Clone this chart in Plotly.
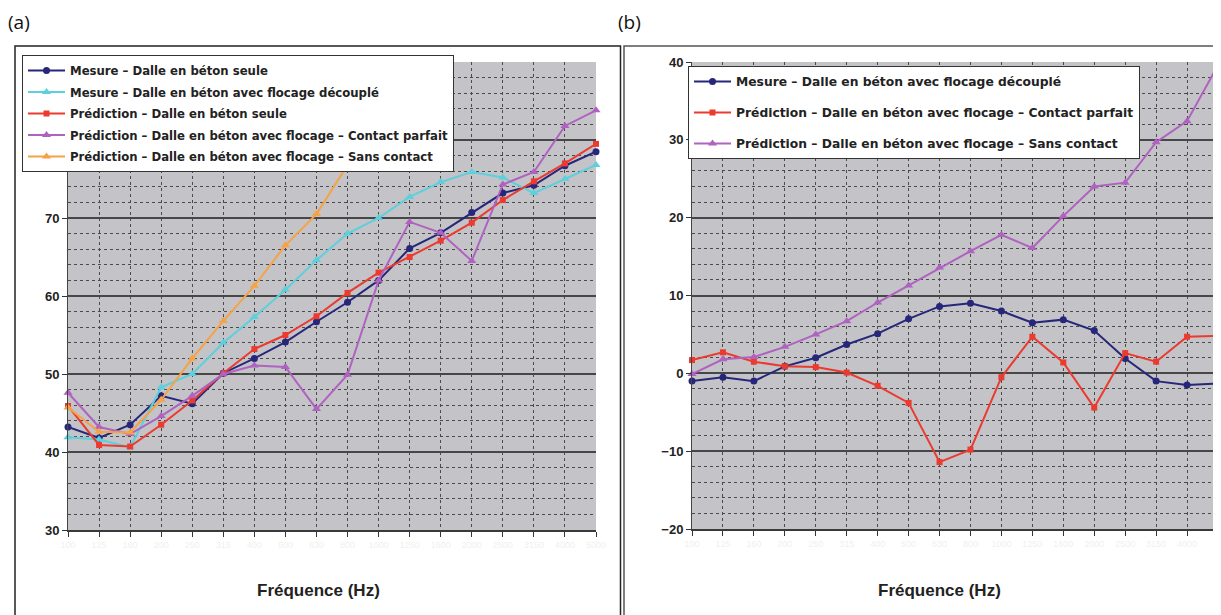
import plotly.graph_objects as go

# ---------------- data ----------------
freqs = ["100", "125", "160", "200", "250", "315", "400", "500", "630", "800",
         "1000", "1250", "1600", "2000", "2500", "3150", "4000", "5000"]

# Panel (a)
a_mesure_seule = [43.2, 41.8, 43.5, 47.2, 46.2, 50.1, 52.0, 54.1, 56.7, 59.2,
                  62.0, 66.1, 68.1, 70.7, 73.2, 74.2, 76.7, 78.5]
a_mesure_flocage = [41.9, 41.6, 40.6, 48.3, 50.0, 54.0, 57.3, 60.8, 64.6, 68.0,
                    70.0, 72.7, 74.6, 75.9, 75.2, 73.2, 75.0, 76.8]
a_pred_seule = [45.9, 40.9, 40.7, 43.5, 46.6, 50.1, 53.2, 55.0, 57.4, 60.4,
                63.0, 65.0, 67.1, 69.4, 72.3, 74.7, 77.0, 79.5]
a_pred_contact = [47.6, 43.2, 42.3, 44.6, 47.2, 50.0, 51.1, 50.9, 45.5, 49.9,
                  62.0, 69.5, 68.1, 64.5, 74.3, 75.9, 81.8, 83.8]
a_pred_sans = [45.7, 42.6, 42.5, 46.7, 52.0, 56.8, 61.3, 66.5, 70.5, 76.8,
               82.5, 88.5]

# Panel (b)
b_mesure_flocage = [-1.0, -0.5, -1.0, 0.9, 2.0, 3.7, 5.1, 7.0, 8.6, 9.0,
                    8.0, 6.5, 6.9, 5.5, 1.9, -1.0, -1.5, -1.3]
b_pred_contact = [1.7, 2.7, 1.5, 0.9, 0.8, 0.1, -1.6, -3.8, -11.4, -9.8,
                  -0.5, 4.7, 1.4, -4.4, 2.6, 1.5, 4.7, 4.8]
b_pred_sans = [-0.1, 1.8, 2.1, 3.4, 5.0, 6.7, 9.1, 11.3, 13.6, 15.7,
               17.8, 16.1, 20.2, 24.0, 24.5, 29.7, 32.4, 39.6]

names_a = ["Mesure – Dalle en béton seule",
           "Mesure – Dalle en béton avec flocage découplé",
           "Prédiction – Dalle en béton seule",
           "Prédiction – Dalle en béton avec flocage – Contact parfait",
           "Prédiction – Dalle en béton avec flocage – Sans contact"]
names_b = ["Mesure – Dalle en béton avec flocage découplé",
           "Prédiction – Dalle en béton avec flocage – Contact parfait",
           "Prédiction – Dalle en béton avec flocage – Sans contact"]

# ---------------- styling ----------------
# The page body has an 8 px margin, so the figure is drawn 8 px smaller
# and every page position below is shifted by that offset.
OFF = 8
W, H = 1221 - OFF, 615 - OFF
NAVY = "#26267a"
CYAN = "#5cd0dc"
RED = "#ec3a2e"
PURPLE = "#b062c0"
ORANGE = "#f6a246"
BG = "#c3c3c8"
FONT = "Liberation Sans"
LEGFONT = "DejaVu Sans"

xs = list(range(len(freqs)))

fig = go.Figure()

def add(x, y, name, color, symbol, xa, ya, legend, size, group):
    fig.add_trace(go.Scatter(
        x=x[:len(y)], y=y, name=name, mode="lines+markers",
        line=dict(color=color, width=2),
        marker=dict(color=color, symbol=symbol, size=size),
        xaxis=xa, yaxis=ya, legend=legend, cliponaxis=False,
        legendgroup=group,
    ))

add(xs, a_mesure_seule, names_a[0], NAVY, "circle", "x", "y", "legend", 7, "a1")
add(xs, a_mesure_flocage, names_a[1], CYAN, "triangle-up", "x", "y", "legend", 8, "a2")
add(xs, a_pred_seule, names_a[2], RED, "square", "x", "y", "legend", 6, "a3")
add(xs, a_pred_contact, names_a[3], PURPLE, "triangle-up", "x", "y", "legend", 8, "a4")
add(xs, a_pred_sans, names_a[4], ORANGE, "triangle-up", "x", "y", "legend", 8, "a5")

add(xs, b_mesure_flocage, names_b[0], NAVY, "circle", "x2", "y2", "legend2", 7, "b1")
add(xs, b_pred_contact, names_b[1], RED, "square", "x2", "y2", "legend2", 6, "b2")
add(xs, b_pred_sans, names_b[2], PURPLE, "triangle-up", "x2", "y2", "legend2", 8, "b3")

def px_x(p):
    return (p - OFF) / W

def px_y(p):
    return 1 - (p - OFF) / H

xcommon = dict(
    tickmode="array", tickvals=xs, ticktext=freqs,
    tickfont=dict(family=FONT, size=9, color="#f0f0f0"),
    showgrid=True, gridcolor="#4a4a4a", griddash="dot", gridwidth=1,
    ticks="outside", ticklen=5, tickcolor="#333", tickwidth=1,
    showline=True, linecolor="#3a3a3a", linewidth=2,
    zeroline=False, range=[0, 17], fixedrange=True, automargin=False,
)
ycommon = dict(
    tickfont=dict(family=FONT, size=13, color="#222", weight="bold"),
    showgrid=True, gridcolor="#474747", gridwidth=2,
    ticks="outside", ticklen=5, tickcolor="#333",
    showline=True, linecolor="#444", linewidth=1,
    zeroline=False, dtick=10, automargin=False,
    minor=dict(dtick=2, showgrid=True, gridcolor="#4a4a4a", griddash="dot",
               gridwidth=1, ticks=""),
)

fig.update_layout(
    width=W, height=H, autosize=False,
    margin=dict(l=0, r=0, t=0, b=0, pad=0),
    paper_bgcolor="white", plot_bgcolor=BG,
    font=dict(family=FONT, color="#222"),
    xaxis=dict(domain=[px_x(68), px_x(596)], anchor="y", **xcommon),
    yaxis=dict(domain=[px_y(530), px_y(62)], anchor="x", range=[30, 90], **ycommon),
    xaxis2=dict(domain=[px_x(692), px_x(1218)], anchor="y2", **xcommon),
    yaxis2=dict(domain=[px_y(529), px_y(62)], anchor="x2", range=[-20, 40], **ycommon),
    legend=dict(
        x=px_x(22), y=px_y(55), xanchor="left", yanchor="top",
        bgcolor="white", bordercolor="#333", borderwidth=1,
        font=dict(family=LEGFONT, size=11.7, color="#222", weight="bold"),
        itemwidth=37, tracegroupgap=2.5,
    ),
    legend2=dict(
        x=px_x(688), y=px_y(66), xanchor="left", yanchor="top",
        bgcolor="white", bordercolor="#333", borderwidth=1,
        font=dict(family=LEGFONT, size=12.3, color="#222", weight="bold"),
        itemwidth=37, tracegroupgap=12,
    ),
    shapes=[
        dict(type="rect", xref="paper", yref="paper",
             x0=px_x(15), x1=px_x(620.5), y0=-0.02, y1=px_y(46),
             line=dict(color="#222", width=1.5)),
        dict(type="rect", xref="paper", yref="paper",
             x0=px_x(624), x1=1.02, y0=-0.02, y1=px_y(46),
             line=dict(color="#555", width=1.5)),
    ],
    annotations=[
        dict(text="(a)", x=px_x(6), y=px_y(22), xref="paper", yref="paper",
             xanchor="left", yanchor="middle", showarrow=False,
             font=dict(family="Open Sans", size=19, color="#111")),
        dict(text="(b)", x=px_x(616), y=px_y(22), xref="paper", yref="paper",
             xanchor="left", yanchor="middle", showarrow=False,
             font=dict(family="Open Sans", size=19, color="#111")),
        dict(text="Fréquence (Hz)", x=px_x(318), y=px_y(590), xref="paper", yref="paper",
             xanchor="center", yanchor="middle", showarrow=False,
             font=dict(family=FONT, size=17, color="#222", weight="bold")),
        dict(text="Fréquence (Hz)", x=px_x(940), y=px_y(590), xref="paper", yref="paper",
             xanchor="center", yanchor="middle", showarrow=False,
             font=dict(family=FONT, size=17, color="#222", weight="bold")),
    ],
)

fig.write_html("out.html")
